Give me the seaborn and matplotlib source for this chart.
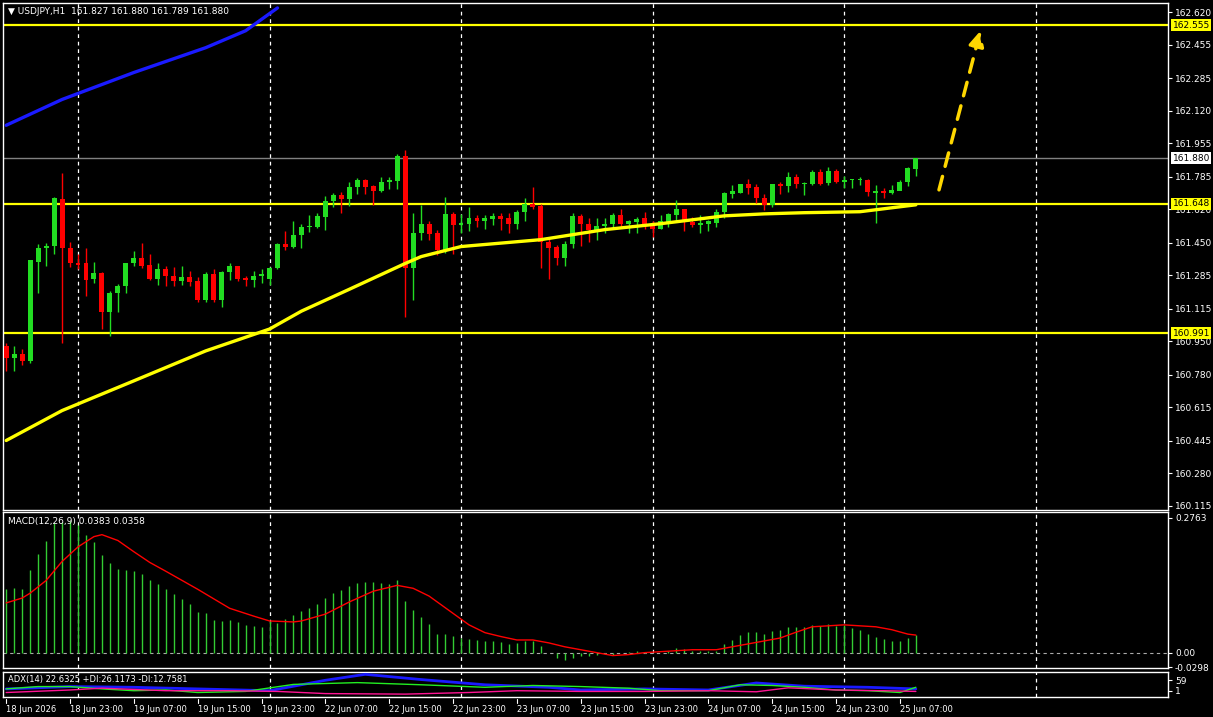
import matplotlib
matplotlib.use("Agg")
import matplotlib.pyplot as plt
import matplotlib.transforms as mtransforms
import seaborn as sns
import numpy as np
import pandas as pd

sns.set_style("dark")
plt.rcParams['font.family'] = ['DejaVu Sans']

# ---------------- data ----------------
opens = [160.926,160.865,160.885,160.85,161.355,161.426,161.436,161.673,161.426,161.35,
         161.345,161.264,161.295,161.098,161.193,161.229,161.345,161.375,161.335,161.264,
         161.315,161.28,161.254,161.274,161.254,161.158,161.29,161.158,161.30,161.33,
         161.27,161.259,161.28,161.264,161.32,161.446,161.431,161.491,161.532,161.532,
         161.582,161.663,161.693,161.673,161.734,161.77,161.739,161.714,161.759,161.764,
         161.89,161.32,161.50,161.547,161.50,161.411,161.597,161.542,161.547,161.577,
         161.562,161.572,161.587,161.577,161.547,161.608,161.648,161.638,161.456,161.431,
         161.375,161.446,161.587,161.547,161.517,161.537,161.547,161.592,161.547,161.557,
         161.577,161.547,161.522,161.557,161.592,161.62,161.557,161.542,161.547,161.552,
         161.608,161.698,161.704,161.749,161.734,161.678,161.643,161.749,161.739,161.785,
         161.749,161.749,161.81,161.754,161.815,161.759,161.769,161.77,161.77,161.704,
         161.714,161.704,161.714,161.759,161.827]
closes = [160.865,160.885,160.85,161.365,161.426,161.436,161.678,161.426,161.35,161.335,
          161.259,161.295,161.098,161.193,161.229,161.345,161.375,161.33,161.264,161.315,
          161.28,161.254,161.274,161.249,161.158,161.29,161.158,161.30,161.33,161.264,
          161.259,161.28,161.29,161.32,161.446,161.431,161.491,161.532,161.537,161.587,
          161.663,161.693,161.673,161.734,161.77,161.734,161.714,161.759,161.77,161.89,
          161.32,161.50,161.547,161.495,161.411,161.597,161.542,161.552,161.577,161.562,
          161.577,161.587,161.572,161.547,161.608,161.648,161.633,161.456,161.426,161.375,
          161.446,161.587,161.547,161.517,161.537,161.547,161.592,161.547,161.562,161.572,
          161.547,161.522,161.562,161.597,161.62,161.557,161.542,161.552,161.562,161.608,
          161.704,161.714,161.749,161.729,161.678,161.643,161.749,161.739,161.785,161.749,
          161.754,161.81,161.749,161.815,161.759,161.769,161.772,161.775,161.709,161.714,
          161.704,161.72,161.759,161.83,161.880]
highs = [160.941,160.926,160.911,161.365,161.446,161.451,161.683,161.805,161.456,161.395,
         161.426,161.355,161.30,161.204,161.239,161.345,161.406,161.451,161.395,161.345,
         161.33,161.325,161.33,161.305,161.274,161.30,161.315,161.305,161.345,161.33,
         161.284,161.305,161.315,161.325,161.451,161.512,161.562,161.547,161.592,161.603,
         161.688,161.704,161.709,161.759,161.779,161.774,161.744,161.785,161.785,161.90,
         161.921,161.60,161.643,161.56,161.517,161.683,161.608,161.597,161.633,161.59,
         161.592,161.603,161.600,161.603,161.615,161.678,161.734,161.648,161.47,161.44,
         161.46,161.603,161.597,161.577,161.577,161.577,161.60,161.62,161.565,161.58,
         161.608,161.56,161.592,161.600,161.668,161.623,161.58,161.592,161.565,161.623,
         161.709,161.744,161.749,161.774,161.749,161.70,161.749,161.76,161.81,161.80,
         161.76,161.82,161.826,161.836,161.826,161.79,161.775,161.785,161.775,161.745,
         161.73,161.745,161.77,161.835,161.880]
lows = [160.80,160.80,160.83,160.84,161.193,161.33,161.395,160.941,161.325,161.315,
        161.178,161.244,161.012,160.976,161.098,161.193,161.33,161.32,161.259,161.234,
        161.229,161.229,161.234,161.229,161.148,161.148,161.15,161.123,161.259,161.254,
        161.229,161.224,161.244,161.234,161.315,161.411,161.426,161.426,161.505,161.527,
        161.517,161.633,161.603,161.638,161.698,161.70,161.643,161.709,161.724,161.724,
        161.072,161.158,161.466,161.466,161.39,161.40,161.395,161.50,161.51,161.53,
        161.52,161.54,161.517,161.50,161.52,161.56,161.62,161.32,161.264,161.335,
        161.33,161.426,161.436,161.456,161.466,161.50,161.527,161.53,161.50,161.50,
        161.52,161.48,161.52,161.53,161.562,161.51,161.53,161.50,161.51,161.53,
        161.577,161.676,161.704,161.70,161.654,161.618,161.63,161.70,161.71,161.729,
        161.693,161.744,161.745,161.744,161.755,161.73,161.73,161.745,161.69,161.552,
        161.68,161.70,161.72,161.74,161.789]

ma_yellow_idx = [0,7,16,25,33,37,43,50,52,57,67,75,82,90,95,100,107,112,114]
ma_yellow = [160.446,160.598,160.749,160.901,161.012,161.103,161.214,161.345,161.380,161.431,
             161.466,161.517,161.547,161.587,161.597,161.603,161.608,161.633,161.643]
ma_blue_idx = [0,7,16,25,30,34]
ma_blue = [162.047,162.178,162.315,162.441,162.527,162.643]

levels_yellow = [162.555, 161.648, 160.991]
current_price = 161.880
price_ticks = [162.620,162.455,162.285,162.120,161.955,161.785,161.620,161.450,161.285,
               161.115,160.950,160.780,160.615,160.445,160.280,160.115]

macd_hist = [0.130,0.132,0.130,0.169,0.203,0.230,0.266,0.267,0.270,0.262,
             0.242,0.226,0.201,0.183,0.171,0.169,0.167,0.161,0.148,0.140,
             0.130,0.120,0.110,0.100,0.083,0.081,0.067,0.065,0.067,0.063,
             0.057,0.055,0.053,0.065,0.061,0.069,0.077,0.085,0.091,0.100,
             0.112,0.122,0.128,0.136,0.142,0.144,0.144,0.142,0.140,0.148,
             0.106,0.087,0.073,0.059,0.039,0.039,0.035,0.030,0.028,0.026,
             0.024,0.024,0.022,0.018,0.020,0.024,0.024,0.014,0.0,-0.012,
             -0.016,-0.010,-0.006,-0.006,-0.004,-0.002,-0.004,0.0,0.002,0.004,
             0.002,0.0,0.0,0.004,0.010,0.008,0.004,0.004,0.004,0.004,
             0.018,0.026,0.036,0.042,0.042,0.038,0.045,0.047,0.053,0.053,
             0.053,0.057,0.055,0.059,0.055,0.057,0.051,0.047,0.038,0.032,
             0.028,0.024,0.024,0.030,0.036]
signal_idx = [0,2,3,5,7,9,11,12,14,16,18,20,24,28,31,33,36,37,40,43,46,49,51,53,
              58,60,62,64,66,68,70,72,74,76,78,80,82,84,86,89,91,93,95,97,99,101,103,105,107,109,111,113,114]
signal = [0.102,0.112,0.122,0.148,0.187,0.217,0.238,0.242,0.230,0.207,0.185,0.167,0.130,0.091,0.075,0.065,0.063,0.065,0.079,0.104,0.126,0.138,0.132,0.116,
          0.057,0.041,0.033,0.026,0.026,0.020,0.012,0.006,0.0,-0.006,-0.004,0.0,0.002,0.004,0.006,0.006,0.012,0.018,0.024,0.030,0.042,0.053,0.055,0.057,0.055,0.053,0.047,0.038,0.036]

adx_idx = [0,8,16,24,33,40,45,52,60,68,72,80,88,94,100,108,114]
adx = [11,24,20,11,1,59,92,63,34,20,5,11,5,44,26,20,11]
pdi_idx = [0,4,8,12,16,20,24,30,36,44,52,60,66,72,78,82,88,92,96,100,104,108,112,114]
pdi = [11,24,24,11,1,5,-9,-3,36,46,34,20,30,24,15,1,1,34,30,20,5,1,-9,20]
mdi_idx = [0,8,12,20,28,34,40,50,58,64,72,80,88,94,98,104,110,114]
mdi = [-9,5,15,1,1,-3,-15,-18,-9,1,-3,-3,1,-5,17,5,1,-3]

date_labels = ["18 Jun 2026","18 Jun 23:00","19 Jun 07:00","19 Jun 15:00","19 Jun 23:00",
               "22 Jun 07:00","22 Jun 15:00","22 Jun 23:00","23 Jun 07:00","23 Jun 15:00",
               "23 Jun 23:00","24 Jun 07:00","24 Jun 15:00","24 Jun 23:00","25 Jun 07:00"]
grid_idx = [9,33,57,81,105,129]
arrow_start = (116.9, 161.719)
arrow_end = (122.1, 162.527)

# ---------------- figure ----------------
W, H = 1213, 717
fig = plt.figure(figsize=(W/100, H/100), dpi=100, facecolor='black')
L = 3/W; WD = 1165/W
def pos(y0, y1):
    return [L, 1-y1/H, WD, (y1-y0)/H]
ax = fig.add_axes(pos(3, 510))
axm = fig.add_axes(pos(512, 668))
axa = fig.add_axes(pos(672, 697))
XMAX = 145.6
for a in (ax, axm, axa):
    a.set_facecolor('black')
    a.set_xlim(-0.4, XMAX)
    for s in a.spines.values():
        s.set_color('white'); s.set_linewidth(1)
    a.set_xticks([])
    a.yaxis.tick_right()
    a.tick_params(axis='y', colors='white', labelsize=6.5, length=3, width=0.8, pad=2)
    a.grid(False)
    for g in grid_idx:
        a.axvline(g, color='white', lw=0.9, ls=(0, (3, 3)), zorder=1)

n = len(closes)
x = np.arange(n)
o = np.array(opens); c = np.array(closes); h = np.array(highs); l = np.array(lows)
col = np.where(c >= o, '#22dd22', '#ff0000')
ax.vlines(x, l, h, colors=col, lw=1, zorder=3)
body = np.maximum(np.abs(c-o), 0.003)
ax.bar(x, body, bottom=np.minimum(o, c), width=0.62, color=col, edgecolor='none', linewidth=0, zorder=4)

sns.lineplot(x=ma_yellow_idx, y=ma_yellow, ax=ax, color='#ffff00', lw=2.4, zorder=5)
sns.lineplot(x=ma_blue_idx, y=ma_blue, ax=ax, color='#1a1aff', lw=2.4, zorder=5)
for lv in levels_yellow:
    ax.axhline(lv, color='#ffff00', lw=1.6, zorder=2)
ax.axhline(current_price, color='#808080', lw=1, zorder=2)
ax.set_ylim(160.093, 162.668)
ax.set_yticks(price_ticks)
ax.set_yticklabels([f"{t:.3f}" for t in price_ticks])
ax.annotate("", xy=arrow_end, xytext=arrow_start,
            arrowprops=dict(arrowstyle='-|>,head_length=0.9,head_width=0.45', color='#ffd700',
                            lw=2.5, ls=(0, (4, 3)), shrinkA=0, shrinkB=0), zorder=6)
tr = mtransforms.blended_transform_factory(ax.transAxes, ax.transData)
for lv in levels_yellow:
    ax.text(1.004, lv, f"{lv:.3f}", transform=tr, va='center', ha='left', fontsize=6.5,
            color='black', bbox=dict(boxstyle='square,pad=0.15', fc='#ffff00', ec='none'), zorder=10, clip_on=False)
ax.text(1.004, current_price, f"{current_price:.3f}", transform=tr, va='center', ha='left', fontsize=6.5,
        color='black', bbox=dict(boxstyle='square,pad=0.15', fc='white', ec='none'), zorder=10, clip_on=False)
ax.text(0.004, 0.992, "\u25BC USDJPY,H1  161.827 161.880 161.789 161.880", transform=ax.transAxes,
        color='white', fontsize=6.5, va='top', ha='left')
ax.set_xlabel(''); ax.set_ylabel('')

# MACD
axm.vlines(x, 0, macd_hist, colors='#33cc33', lw=1, zorder=3)
sns.lineplot(x=signal_idx, y=signal, ax=axm, color='#ff0000', lw=1, zorder=4)
axm.axhline(0, color='#aaaaaa', lw=0.8, ls=(0, (3, 3)))
axm.set_ylim(-0.0315, 0.2885)
axm.set_yticks([0.2763, 0.0, -0.0298])
axm.set_yticklabels(["0.2763", "0.00", "-0.0298"])
axm.text(0.004, 0.97, "MACD(12,26,9) 0.0383 0.0358", transform=axm.transAxes, color='white',
         fontsize=6.5, va='top', ha='left')
axm.set_xlabel(''); axm.set_ylabel('')

# ADX
sns.lineplot(x=adx_idx, y=adx, ax=axa, color='#1a1aff', lw=2, zorder=3)
sns.lineplot(x=pdi_idx, y=pdi, ax=axa, color='#22ee22', lw=1, zorder=4)
sns.lineplot(x=mdi_idx, y=mdi, ax=axa, color='#ff1493', lw=1, zorder=4)
axa.set_ylim(-34, 105)
axa.set_yticks([59, 1])
axa.set_yticklabels(["59", "1"])
axa.text(0.004, 0.88, "ADX(14) 22.6325 +DI:26.1173 -DI:12.7581", transform=axa.transAxes,
         color='white', fontsize=6, va='top', ha='left')
axa.set_xlabel(''); axa.set_ylabel('')

# date labels
trd = mtransforms.blended_transform_factory(axa.transData, fig.transFigure)
for i, lab in enumerate(date_labels):
    xi = i*8
    fig.add_artist(plt.Line2D([xi, xi], [1-699/H, 1-703/H], transform=trd, color='white', lw=0.8))
    fig.text(xi, 1-710/H, lab, transform=trd, color='white', fontsize=6, va='center', ha='left')

fig.savefig("out.png", dpi=100, facecolor='black')
